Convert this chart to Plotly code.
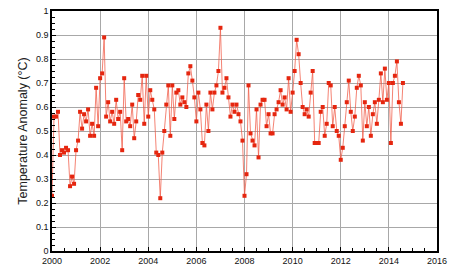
import plotly.graph_objects as go

# Monthly temperature anomaly (°C), Jan..Dec for each year
anom_2000 = [0.23, 0.56, 0.56, 0.58, 0.40, 0.42, 0.41, 0.43, 0.42, 0.27, 0.31, 0.28]
anom_2001 = [0.42, 0.46, 0.58, 0.51, 0.57, 0.54, 0.59, 0.48, 0.53, 0.48, 0.68, 0.52]
anom_2002 = [0.72, 0.74, 0.89, 0.56, 0.62, 0.54, 0.58, 0.53, 0.63, 0.55, 0.58, 0.42]
anom_2003 = [0.72, 0.54, 0.55, 0.52, 0.61, 0.47, 0.54, 0.65, 0.63, 0.73, 0.53, 0.73]
anom_2004 = [0.56, 0.67, 0.63, 0.59, 0.41, 0.40, 0.22, 0.41, 0.50, 0.61, 0.69, 0.48]
anom_2005 = [0.69, 0.55, 0.66, 0.67, 0.61, 0.64, 0.62, 0.60, 0.74, 0.77, 0.71, 0.64]
anom_2006 = [0.54, 0.66, 0.59, 0.45, 0.44, 0.61, 0.50, 0.66, 0.59, 0.66, 0.69, 0.75]
anom_2007 = [0.93, 0.66, 0.68, 0.72, 0.64, 0.56, 0.61, 0.58, 0.61, 0.57, 0.54, 0.46]
anom_2008 = [0.23, 0.32, 0.69, 0.49, 0.46, 0.44, 0.59, 0.39, 0.61, 0.63, 0.63, 0.52]
anom_2009 = [0.57, 0.49, 0.49, 0.57, 0.59, 0.62, 0.67, 0.61, 0.64, 0.59, 0.72, 0.58]
anom_2010 = [0.66, 0.75, 0.88, 0.82, 0.70, 0.60, 0.57, 0.59, 0.56, 0.66, 0.75, 0.45]
anom_2011 = [0.45, 0.45, 0.58, 0.60, 0.48, 0.53, 0.70, 0.69, 0.52, 0.60, 0.50, 0.48]
anom_2012 = [0.38, 0.43, 0.52, 0.62, 0.71, 0.58, 0.50, 0.56, 0.68, 0.73, 0.69, 0.46]
anom_2013 = [0.62, 0.52, 0.60, 0.48, 0.57, 0.62, 0.53, 0.63, 0.74, 0.62, 0.76, 0.63]
anom_2014 = [0.70, 0.45, 0.70, 0.73, 0.79, 0.62, 0.53, 0.70]

years = list(range(2000, 2015))
series = [anom_2000, anom_2001, anom_2002, anom_2003, anom_2004, anom_2005,
          anom_2006, anom_2007, anom_2008, anom_2009, anom_2010, anom_2011,
          anom_2012, anom_2013, anom_2014]

x_vals, y_vals = [], []
for yr, vals in zip(years, series):
    for m, v in enumerate(vals):
        x_vals.append(yr + m / 12.0)
        y_vals.append(v)

fig = go.Figure()
fig.add_trace(go.Scatter(
    x=x_vals, y=y_vals, mode="lines+markers",
    line=dict(color="rgba(240,90,70,0.75)", width=1),
    marker=dict(symbol="square", size=4, color="#e5260f", line=dict(width=0)),
    showlegend=False, cliponaxis=False,
))

axis_font = dict(family="Liberation Sans, Arial, sans-serif", size=9, color="#111")
fig.update_layout(
    width=456, height=277,
    margin=dict(l=52, r=19, t=6, b=26),
    paper_bgcolor="white", plot_bgcolor="white",
    font=axis_font,
    xaxis=dict(
        range=[2000, 2016], dtick=2, tick0=2000, tickformat="d",
        showgrid=True, gridcolor="#a8a8a8", gridwidth=1,
        ticks="inside", ticklen=4, tickcolor="black",
        minor=dict(dtick=0.5, ticks="inside", ticklen=3, tickcolor="black", showgrid=False),
        showline=True, linecolor="black", linewidth=1.5, mirror=True,
        zeroline=False, tickfont=axis_font,
    ),
    yaxis=dict(
        range=[0, 1], dtick=0.1, tick0=0,
        showgrid=True, gridcolor="#a8a8a8", gridwidth=1,
        ticks="inside", ticklen=4, tickcolor="black",
        minor=dict(dtick=0.025, ticks="inside", ticklen=3, tickcolor="black", showgrid=False),
        showline=True, linecolor="black", linewidth=1.5, mirror=True,
        zeroline=False, tickfont=axis_font,
        title=dict(text="Temperature Anomaly (°C)",
                   font=dict(family="Liberation Sans, Arial, sans-serif", size=12.5, color="#222"),
                   standoff=6),
    ),
)

fig.write_html("out.html")
